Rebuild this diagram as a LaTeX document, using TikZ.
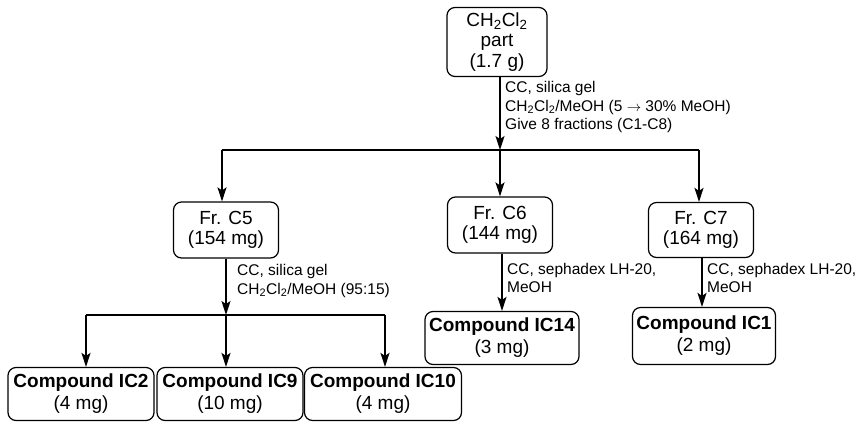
\documentclass[tikz,border=0pt]{standalone}
\usepackage{fontspec}
\setmainfont{Liberation Sans}
\usetikzlibrary{arrows.meta,positioning}
\newcommand{\dcm}{CH\textsubscript{2}Cl\textsubscript{2}}
\tikzset{
  stage/.style={rectangle,rounded corners=8pt,draw=black,line width=1.2pt,align=center,
                font=\fontsize{19}{20.5}\selectfont,inner sep=0pt},
  cpd/.style={stage,font=\fontsize{19}{22}\selectfont},
  note/.style={anchor=west,align=left,font=\fontsize{15.5}{18.5}\selectfont,inner sep=0pt},
  arr/.style={-{Stealth[length=14pt,width=9pt,inset=3pt]},line width=1.6pt},
  bar/.style={line width=1.3pt},
}
\begin{document}
\begin{tikzpicture}[x=1pt,y=-1pt]
  \useasboundingbox (0,0) rectangle (865,421);
  % extract and fractions
  \node[stage,minimum width=100pt,minimum height=69pt] (top) at (497,42) {\dcm\\part\\(1.7 g)};
  \node[stage,minimum width=105pt,minimum height=56pt] (c5) at (226,230) {Fr. C5\\(154 mg)};
  \node[stage,minimum width=105pt,minimum height=56pt] (c6) at (500,225) {Fr. C6\\(144 mg)};
  \node[stage,minimum width=105pt,minimum height=55pt] (c7) at (701,230) {Fr. C7\\(164 mg)};
  % pure compounds
  \node[cpd,minimum width=146pt,minimum height=53pt] (ic2) at (81,394) {\textbf{Compound IC2}\\(4 mg)};
  \node[cpd,minimum width=146pt,minimum height=53pt] (ic9) at (230,394) {\textbf{Compound IC9}\\(10 mg)};
  \node[cpd,minimum width=157pt,minimum height=53pt] (ic10) at (383,394) {\textbf{Compound IC10}\\(4 mg)};
  \node[cpd,minimum width=154pt,minimum height=53pt] (ic14) at (502,338) {\textbf{Compound IC14}\\(3 mg)};
  \node[cpd,minimum width=143pt,minimum height=57pt] (ic1) at (704,336) {\textbf{Compound IC1}\\(2 mg)};
  % junctions
  \coordinate (j0) at (500,150);
  \coordinate (jl) at (222,150);
  \coordinate (jr) at (699,150);
  \coordinate (k0) at (226,315);
  \coordinate (kl) at (86,315);
  \coordinate (kr) at (385,315);
  % first column
  \draw[arr] (top.south -| j0) -- (j0);
  \draw[bar] (jl) -- (jr);
  \draw[arr] (jl) -- (jl |- c5.north);
  \draw[arr] (j0) -- (j0 |- c6.north);
  \draw[arr] (jr) -- (jr |- c7.north);
  \node[note] (n0) at (505,107) {CC, silica gel\\\dcm/MeOH (5 $\rightarrow$ 30\% MeOH)\\Give 8 fractions (C1-C8)};
  % Fr. C5
  \draw[arr] (c5.south) -- (k0);
  \draw[bar] (kl) -- (kr);
  \draw[arr] (kl) -- (kl |- ic2.north);
  \draw[arr] (k0) -- (k0 |- ic9.north);
  \draw[arr] (kr) -- (kr |- ic10.north);
  \node[note] (n5) at (237,281) {CC, silica gel\\\dcm/MeOH (95:15)};
  % Fr. C6 and Fr. C7
  \draw[arr] (c6.south -| ic14) -- (ic14.north);
  \node[note] (n6) at (507,278) {CC, sephadex LH-20,\\MeOH};
  \draw[arr] (c7.south -| 702,0) -- (ic1.north -| 702,0);
  \node[note] (n7) at (707,278) {CC, sephadex LH-20,\\MeOH};
\end{tikzpicture}
\end{document}
